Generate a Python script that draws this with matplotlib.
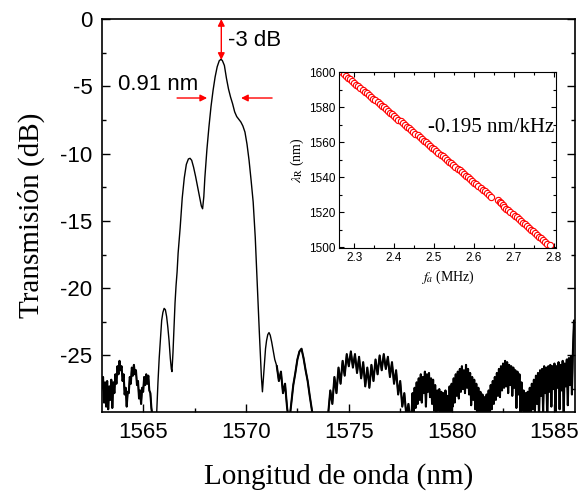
import matplotlib
matplotlib.use("Agg")
import matplotlib.pyplot as plt
from matplotlib.ticker import MultipleLocator

plt.rcParams['font.family'] = ['Liberation Sans', 'DejaVu Sans']
plt.rcParams['mathtext.fontset'] = 'stix'

# --- transmission spectrum ---
# noisy floor, left side
wl_a = [1563.00, 1563.05, 1563.10, 1563.15, 1563.20, 1563.25, 1563.30, 1563.35, 1563.40, 1563.45,
        1563.50, 1563.55, 1563.60, 1563.65, 1563.70, 1563.75, 1563.80, 1563.85, 1563.90, 1563.95,
        1564.00, 1564.05, 1564.10, 1564.15, 1564.20, 1564.25, 1564.30, 1564.35, 1564.40, 1564.45,
        1564.50, 1564.55, 1564.60, 1564.65, 1564.70, 1564.75, 1564.80, 1564.85, 1564.90, 1564.95,
        1565.00, 1565.05, 1565.10, 1565.15, 1565.20, 1565.25, 1565.30, 1565.35, 1565.40, 1565.45,
        1565.50, 1565.55]
tr_a = [-27.4, -26.6, -28.5, -27.0, -28.8, -26.9, -29.0, -27.3, -28.3, -26.8,
        -28.9, -27.0, -27.8, -26.4, -27.1, -25.8, -26.4, -25.4, -26.1, -25.8,
        -26.9, -26.4, -27.9, -27.4, -28.8, -27.7, -27.8, -26.6, -27.1, -25.9,
        -26.5, -25.7, -26.4, -26.1, -27.2, -26.9, -28.2, -27.6, -28.6, -27.4,
        -27.7, -26.6, -27.2, -26.4, -27.1, -26.5, -27.6, -27.8, -28.9, -29.5,
        -30.0, -30.0]

# main resonance and side lobes
wl_b = [1565.60, 1565.66, 1565.72, 1565.78, 1565.84, 1565.90, 1565.96,
        1566.02, 1566.08, 1566.14, 1566.20, 1566.26, 1566.32, 1566.37, 1566.40, 1566.45, 1566.50,
        1566.55, 1566.60, 1566.65, 1566.70, 1566.80, 1566.90,
        1567.00, 1567.10, 1567.20, 1567.28, 1567.36, 1567.45, 1567.55, 1567.65, 1567.75, 1567.83,
        1567.89, 1567.95,
        1568.00, 1568.10, 1568.20, 1568.30, 1568.40, 1568.50, 1568.60, 1568.70, 1568.78, 1568.85,
        1568.95,
        1569.05, 1569.15, 1569.25, 1569.35, 1569.45, 1569.55, 1569.65, 1569.75, 1569.85, 1569.95,
        1570.05, 1570.15, 1570.25, 1570.35, 1570.45, 1570.55, 1570.65, 1570.75, 1570.80, 1570.85,
        1570.90, 1570.95,
        1571.00, 1571.06, 1571.12, 1571.18, 1571.25, 1571.32, 1571.40]
tr_b = [-30.0, -29.2, -27.0, -25.2, -23.8, -22.4, -21.8,
        -21.5, -21.6, -22.1, -22.9, -23.9, -25.2, -26.0, -26.2, -24.8, -22.9,
        -21.1, -19.8, -18.8, -17.4, -15.5, -13.3,
        -11.8, -10.8, -10.4, -10.35, -10.5, -11.0, -11.7, -12.5, -13.3, -13.9,
        -14.1, -13.2,
        -11.8, -9.7, -8.0, -6.5, -5.3, -4.3, -3.55, -3.1, -3.0, -3.08,
        -3.45,
        -4.4, -5.2, -5.8, -6.3, -6.9, -7.25, -7.45, -7.65, -7.95, -8.4,
        -9.3, -10.5, -12.0, -13.6, -16.2, -19.8, -23.3, -26.6, -27.7, -26.6,
        -25.5, -24.5,
        -23.9, -23.45, -23.3, -23.5, -24.0, -24.6, -25.3]

# noisy floor, right side (first part)
wl_c = [1571.5, 1571.6, 1571.7, 1571.8, 1571.9, 1572.0, 1572.1, 1572.2, 1572.3, 1572.4,
        1572.5, 1572.6, 1572.7, 1572.8, 1572.9, 1573.0, 1573.1, 1573.2, 1573.3, 1573.4,
        1573.5, 1573.6, 1573.7, 1573.8, 1573.9, 1574.0, 1574.1, 1574.2, 1574.3, 1574.4,
        1574.5, 1574.6, 1574.7, 1574.8, 1574.9, 1575.0, 1575.1, 1575.2, 1575.3, 1575.4,
        1575.5, 1575.6, 1575.7, 1575.8, 1575.9, 1576.0, 1576.1, 1576.2, 1576.3, 1576.4,
        1576.5, 1576.6, 1576.7, 1576.8, 1576.9, 1577.0, 1577.1, 1577.2, 1577.3, 1577.4,
        1577.5, 1577.6, 1577.7, 1577.8, 1577.9, 1578.0]
tr_c = [-25.8, -26.9, -26.2, -27.8, -27.1, -28.9, -30.0, -28.6, -27.2, -26.3,
        -25.3, -24.7, -24.5, -25.2, -26.1, -26.9, -28.0, -29.0, -30.0, -30.5,
        -30.5, -30.5, -30.5, -30.5, -30.0, -29.3, -27.6, -28.6, -26.6, -27.8,
        -25.9, -27.1, -25.4, -26.5, -24.9, -25.8, -24.7, -25.9, -24.9, -26.3,
        -25.1, -26.7, -25.5, -27.3, -25.9, -27.4, -25.7, -26.9, -25.3, -26.4,
        -25.0, -26.1, -24.9, -26.0, -25.1, -26.6, -25.5, -27.1, -26.1, -27.9,
        -26.9, -28.8, -27.8, -29.5, -28.6, -30.0]

# noisy floor, right side (second part)
wl_d = [1578.05, 1578.10, 1578.15, 1578.20, 1578.25, 1578.30, 1578.35, 1578.40, 1578.45, 1578.50,
        1578.55, 1578.60, 1578.65, 1578.70, 1578.75, 1578.80, 1578.85, 1578.90, 1578.95,
        1579.00, 1579.05, 1579.10, 1579.15, 1579.20, 1579.25, 1579.30, 1579.35, 1579.40, 1579.45,
        1579.50, 1579.55, 1579.60, 1579.65, 1579.70, 1579.75, 1579.80, 1579.85, 1579.90, 1579.95,
        1580.00, 1580.05, 1580.10, 1580.15, 1580.20, 1580.25, 1580.30, 1580.35, 1580.40, 1580.45,
        1580.50, 1580.55, 1580.60, 1580.65, 1580.70, 1580.75, 1580.80, 1580.85, 1580.90, 1580.95,
        1581.00, 1581.05, 1581.10, 1581.15, 1581.20, 1581.25, 1581.30, 1581.35, 1581.40, 1581.45,
        1581.50, 1581.55, 1581.60, 1581.65, 1581.70, 1581.75, 1581.80, 1581.85, 1581.90, 1581.95,
        1582.00, 1582.05, 1582.10, 1582.15, 1582.20, 1582.25, 1582.30, 1582.35, 1582.40, 1582.45,
        1582.50, 1582.55, 1582.60, 1582.65, 1582.70, 1582.75, 1582.80, 1582.85, 1582.90, 1582.95,
        1583.00, 1583.05, 1583.10, 1583.15, 1583.20, 1583.25, 1583.30, 1583.35, 1583.40, 1583.45,
        1583.50, 1583.55, 1583.60, 1583.65, 1583.70, 1583.75, 1583.80, 1583.85, 1583.90, 1583.95,
        1584.00, 1584.05, 1584.10, 1584.15, 1584.20, 1584.25, 1584.30, 1584.35, 1584.40, 1584.45,
        1584.50, 1584.55, 1584.60, 1584.65, 1584.70, 1584.75, 1584.80, 1584.85, 1584.90, 1584.95,
        1585.00, 1585.05, 1585.10, 1585.15, 1585.20, 1585.25, 1585.30, 1585.35, 1585.40, 1585.45,
        1585.50, 1585.55, 1585.60, 1585.65, 1585.70, 1585.75, 1585.80, 1585.85, 1585.90, 1585.95,
        1586.00]
tr_d = [-29.4, -27.8, -29.6, -27.4, -28.9, -27.0, -28.6, -26.7, -28.3, -26.4,
        -28.5, -26.6, -27.8, -26.2, -28.8, -26.4, -27.7, -26.3, -28.1,
        -26.7, -28.6, -26.8, -29.1, -27.2, -29.4, -27.6, -29.1, -27.5, -29.7,
        -27.7, -29.2, -27.8, -29.9, -27.6, -29.5, -28.0, -30.0, -27.3, -29.3,
        -27.1, -28.8, -26.7, -28.5, -26.4, -28.0, -26.2, -28.2, -26.0, -27.7,
        -25.8, -27.5, -26.1, -27.8, -25.7, -27.4, -26.0, -27.9, -26.3, -28.7,
        -26.6, -28.3, -26.8, -29.0, -27.1, -29.4, -27.4, -29.2, -27.7, -29.8,
        -27.9, -29.6, -28.1, -30.0, -27.9, -29.4, -27.6, -29.3, -27.2, -29.0,
        -26.9, -28.6, -26.6, -28.3, -26.3, -28.0, -26.0, -28.1, -25.8, -27.6,
        -25.6, -27.4, -25.4, -27.3, -25.5, -27.8, -25.7, -27.2, -25.8, -28.0,
        -25.9, -27.4, -26.1, -28.9, -26.2, -27.9, -26.4, -29.3, -27.0, -29.1,
        -27.6, -29.9, -27.8, -30.0, -27.7, -29.6, -27.4, -29.8, -27.1, -29.0,
        -26.8, -29.2, -26.5, -28.6, -26.3, -29.7, -26.1, -28.0, -26.0, -29.3,
        -25.8, -27.8, -25.9, -29.9, -25.8, -27.7, -25.7, -28.8, -25.8, -27.5,
        -25.6, -29.6, -25.8, -27.4, -25.5, -29.0, -25.7, -27.6, -25.4, -29.4,
        -25.6, -27.3, -25.3, -28.7, -25.2, -27.2, -25.1, -27.9, -24.6, -22.4,
        -23.0]

wavelength = wl_a + wl_b + wl_c + wl_d
transmission = tr_a + tr_b + tr_c + tr_d

# --- inset: resonance wavelength vs acoustic frequency ---
freq_mhz = [2.269, 2.274, 2.280, 2.285, 2.290, 2.295, 2.301, 2.306, 2.311, 2.316,
            2.322, 2.327, 2.332, 2.337, 2.343, 2.348, 2.353, 2.359, 2.364, 2.369,
            2.374, 2.380, 2.385, 2.390, 2.395, 2.401, 2.406, 2.411, 2.417, 2.422,
            2.427, 2.432, 2.438, 2.443, 2.448, 2.453, 2.459, 2.464, 2.469, 2.474,
            2.480, 2.485, 2.490, 2.496, 2.501, 2.506, 2.511, 2.517, 2.522, 2.527,
            2.532, 2.538, 2.543, 2.548, 2.553, 2.559, 2.564, 2.569, 2.574, 2.580,
            2.585, 2.589, 2.596, 2.601, 2.606, 2.611, 2.617, 2.622, 2.627, 2.632,
            2.638, 2.642, 2.661, 2.664, 2.668, 2.672, 2.676, 2.681, 2.686, 2.690,
            2.697, 2.702, 2.707, 2.712, 2.717, 2.722, 2.727, 2.732, 2.737, 2.742,
            2.747, 2.752, 2.757, 2.762, 2.767, 2.772, 2.777, 2.783, 2.789]
lambda_r = [1600, 1599, 1598, 1597, 1596, 1595, 1594, 1593, 1592, 1591,
            1590, 1589, 1588, 1587, 1586, 1585, 1584, 1583, 1582, 1581,
            1580, 1579, 1578, 1577, 1576, 1575, 1574, 1573, 1572, 1571,
            1570, 1569, 1568, 1567, 1566, 1565, 1564, 1563, 1562, 1561,
            1560, 1559, 1558, 1557, 1556, 1555, 1554, 1553, 1552, 1551,
            1550, 1549, 1548, 1547, 1546, 1545, 1544, 1543, 1542, 1541,
            1540, 1539, 1538, 1537, 1536, 1535, 1534, 1533, 1532, 1531,
            1530, 1529, 1527, 1526, 1525, 1524, 1523, 1522, 1521, 1520,
            1519, 1518, 1517, 1516, 1515, 1514, 1513, 1512, 1511, 1510,
            1509, 1508, 1507, 1506, 1505, 1504, 1503, 1502, 1501]

fig = plt.figure(figsize=(5.83, 4.95), dpi=100)
ax = fig.add_axes([0.175, 0.1677, 0.8113, 0.7939])
ax.plot(wavelength, transmission, color='black', lw=1.0)
# the noisy floor looks heavier in the original
ax.plot(wl_a, tr_a, color='black', lw=1.5)
ax.plot(wl_c + wl_d, tr_c + tr_d, color='black', lw=1.5)
ax.set_xlim(1563.0, 1586.0)
ax.set_ylim(-29.2, 0)
ax.xaxis.set_major_locator(MultipleLocator(5))
ax.xaxis.set_minor_locator(MultipleLocator(2.5))
ax.yaxis.set_major_locator(MultipleLocator(5))
ax.yaxis.set_minor_locator(MultipleLocator(2.5))
ax.tick_params(which='both', direction='in', right=True, top=False, width=1.0)
ax.tick_params(which='major', length=6, labelsize=16, pad=7)
ax.tick_params(which='minor', length=3)
ax.set_yticklabels(['%g' % t for t in ax.get_yticks()])
for s in ax.spines.values():
    s.set_linewidth(1.2)
ax.set_xlabel('Longitud de onda (nm)', family='Liberation Serif', fontsize=21, labelpad=15)
ax.set_ylabel('Transmisión (dB)', family='Liberation Serif', fontsize=21, labelpad=11)

# -3 dB and bandwidth markers
red = '#ff0000'
ax.annotate('', xy=(1568.80, 0), xytext=(1568.80, -3.04),
            arrowprops=dict(arrowstyle='<|-|>', color=red, lw=1.0, mutation_scale=10,
                            shrinkA=0, shrinkB=0))
ax.annotate('', xy=(1568.11, -5.87), xytext=(1566.65, -5.87),
            arrowprops=dict(arrowstyle='-|>', color=red, lw=1.0, mutation_scale=10,
                            shrinkA=0, shrinkB=0))
ax.annotate('', xy=(1569.76, -5.87), xytext=(1571.27, -5.87),
            arrowprops=dict(arrowstyle='-|>', color=red, lw=1.0, mutation_scale=10,
                            shrinkA=0, shrinkB=0))
ax.text(1569.13, -1.56, '-3 dB', fontsize=16, va='center', ha='left')
ax.text(1563.78, -4.9, '0.91 nm', fontsize=16, va='center', ha='left')

# inset
ins = fig.add_axes([0.582, 0.4984, 0.3717, 0.3556])
ins.plot(freq_mhz, lambda_r, 'o', ms=4.5, mfc='white', mec=red, mew=0.8)
ins.set_xlim(2.263, 2.805)
ins.set_ylim(1499.4, 1600)
ins.xaxis.set_major_locator(MultipleLocator(0.1))
ins.xaxis.set_minor_locator(MultipleLocator(0.05))
ins.yaxis.set_major_locator(MultipleLocator(20))
ins.yaxis.set_minor_locator(MultipleLocator(10))
ins.tick_params(which='both', direction='in', right=True, top=True, width=0.8)
ins.tick_params(which='major', length=3.5, labelsize=8.5, pad=3)
ins.tick_params(which='minor', length=2)
ins.set_xlabel(r'$f_a$ (MHz)', family='Liberation Serif', fontsize=10, labelpad=3)
ins.set_ylabel(r'$\lambda_{\mathrm{R}}$ (nm)', family='Liberation Serif', fontsize=10, labelpad=2)
ins.text(2.485, 1568.3, '-0.195 nm/kHz', family='Liberation Serif', fontsize=15, va='center')

fig.savefig('out.png', dpi=100)
